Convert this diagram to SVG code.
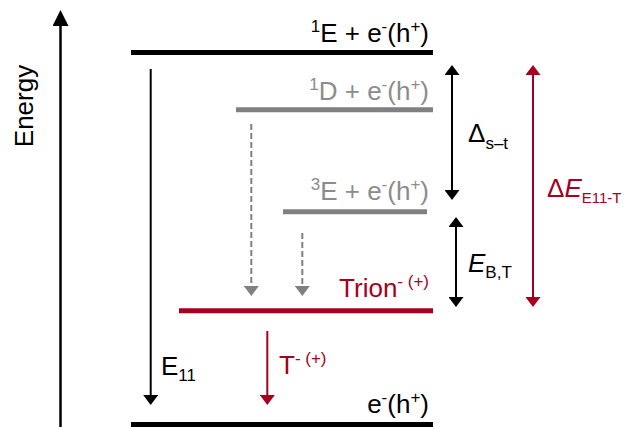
<svg xmlns="http://www.w3.org/2000/svg" width="627" height="427" viewBox="0 0 627 427">
<style>
text{font-family:"Liberation Sans",Arial,sans-serif;font-size:26px}
.k{fill:#000}.g{fill:#8c8c8c}.r{fill:#a50021}
.lvk{stroke:#000;stroke-width:5}
.lvg{stroke:#808080;stroke-width:5}
.lvr{stroke:#a50021;stroke-width:5}
.ak{stroke:#000;stroke-width:2;fill:none}
.ag{stroke:#808080;stroke-width:2;fill:none;stroke-dasharray:6 3}
.ar{stroke:#a50021;stroke-width:2;fill:none}
.sup{font-size:17px}
.sub{font-size:17px}
.sub2{font-size:15px}
</style>
<defs>
<marker id="hk" markerUnits="userSpaceOnUse" viewBox="0 0 10 15" markerWidth="10" markerHeight="15" refX="0" refY="7.5" orient="auto-start-reverse"><path d="M0,0L10,7.5L0,15z" fill="#000"/></marker>
<marker id="hg" markerUnits="userSpaceOnUse" viewBox="0 0 10 15" markerWidth="10" markerHeight="15" refX="0" refY="7.5" orient="auto-start-reverse"><path d="M0,0L10,7.5L0,15z" fill="#808080"/></marker>
<marker id="hr" markerUnits="userSpaceOnUse" viewBox="0 0 10 15" markerWidth="10" markerHeight="15" refX="0" refY="7.5" orient="auto-start-reverse"><path d="M0,0L10,7.5L0,15z" fill="#a50021"/></marker>
<marker id="hax" markerUnits="userSpaceOnUse" viewBox="0 0 16 16" markerWidth="16" markerHeight="16" refX="0" refY="8" orient="auto"><path d="M0,0L16,8L0,16z" fill="#000"/></marker>
</defs>

<g id="axis">
<line x1="60.5" y1="427" x2="60.5" y2="26" stroke="#000" stroke-width="2.5" marker-end="url(#hax)"/>
<text x="0" y="0" transform="translate(33,106) rotate(-90)" text-anchor="middle" class="k">Energy</text>
</g>

<g id="level-1E">
<line x1="131" y1="52.5" x2="433" y2="52.5" class="lvk"/>
<text x="429" y="42" text-anchor="end" class="k"><tspan class="sup" dy="-10">1</tspan><tspan dy="10">E + e</tspan><tspan class="sup" dy="-10">-</tspan><tspan dy="10">(h</tspan><tspan class="sup" dy="-10">+</tspan><tspan dy="10">)</tspan></text>
</g>

<g id="level-1D">
<line x1="236" y1="109.8" x2="433" y2="109.8" class="lvg"/>
<text x="429" y="100" text-anchor="end" class="g"><tspan class="sup" dy="-10">1</tspan><tspan dy="10">D + e</tspan><tspan class="sup" dy="-10">-</tspan><tspan dy="10">(h</tspan><tspan class="sup" dy="-10">+</tspan><tspan dy="10">)</tspan></text>
</g>

<g id="level-3E">
<line x1="283" y1="211.8" x2="427" y2="211.8" class="lvg"/>
<text x="429" y="200" text-anchor="end" class="g"><tspan class="sup" dy="-10">3</tspan><tspan dy="10">E + e</tspan><tspan class="sup" dy="-10">-</tspan><tspan dy="10">(h</tspan><tspan class="sup" dy="-10">+</tspan><tspan dy="10">)</tspan></text>
</g>

<g id="level-trion">
<line x1="179" y1="310.8" x2="433" y2="310.8" class="lvr"/>
<text x="429" y="297" text-anchor="end" class="r">Trion<tspan class="sup" dy="-10">- (+)</tspan></text>
</g>

<g id="level-ground">
<line x1="131" y1="424.5" x2="433" y2="424.5" class="lvk"/>
<text x="429" y="413" text-anchor="end" class="k">e<tspan class="sup" dy="-10">-</tspan><tspan dy="10">(h</tspan><tspan class="sup" dy="-10">+</tspan><tspan dy="10">)</tspan></text>
</g>

<g id="connectors">
<line x1="150.7" y1="69" x2="150.7" y2="395" class="ak" marker-end="url(#hk)"/>
<line x1="251.3" y1="124" x2="251.3" y2="286" class="ag" marker-end="url(#hg)"/>
<line x1="302.3" y1="233" x2="302.3" y2="286" class="ag" marker-end="url(#hg)"/>
<line x1="267.3" y1="331" x2="267.3" y2="395" class="ar" marker-end="url(#hr)"/>
<line x1="452" y1="75" x2="452" y2="190" class="ak" marker-start="url(#hk)" marker-end="url(#hk)"/>
<line x1="456" y1="227" x2="456" y2="297" class="ak" marker-start="url(#hk)" marker-end="url(#hk)"/>
<line x1="533" y1="75" x2="533" y2="297" class="ar" marker-start="url(#hr)" marker-end="url(#hr)"/>
</g>

<g id="labels">
<text x="161" y="375" class="k">E<tspan class="sub" dy="6">11</tspan></text>
<text x="279" y="374" class="r">T<tspan class="sup" dy="-10">- (+)</tspan></text>
<text x="468" y="142" class="k">Δ<tspan class="sub" dy="7">s–t</tspan></text>
<text x="468" y="272" class="k"><tspan font-style="italic">E</tspan><tspan class="sub" dy="6">B,T</tspan></text>
<text x="547" y="197" class="r">Δ<tspan font-style="italic">E</tspan><tspan class="sub2" dy="6">E11-T</tspan></text>
</g>
</svg>
